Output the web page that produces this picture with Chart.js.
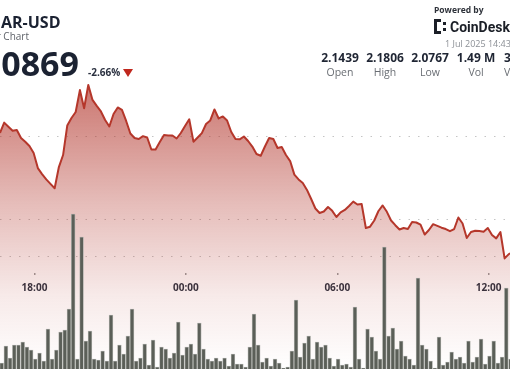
<!DOCTYPE html>
<html lang="en">
<head>
  <meta charset="UTF-8">
  <title>AR-USD 24 Hour Chart</title>
  <script src="https://cdn.jsdelivr.net/npm/chart.js"></script>
  <style>
    html, body {
      margin: 0;
      padding: 0;
      background: #fff;
    }

    body {
      width: 510px;
      height: 369px;
      overflow: hidden;
      position: relative;
      font-family: 'Open Sans', 'Noto Sans', sans-serif;
    }

    #chartBox {
      position: absolute;
      left: 0;
      top: 0;
      width: 510px;
      height: 369px;
    }

    .t {
      position: absolute;
      white-space: nowrap;
      z-index: 2;
    }

    .pair {
      width: 46px;
      text-align: center;
    }

    .val {
      font-weight: 700;
      font-size: 12px;
      line-height: 12px;
      color: #1f2533;
    }

    .lbl {
      font-size: 10.5px;
      line-height: 10.5px;
      color: #6a6e74;
      margin-top: 3px;
    }

    .arrow {
      position: absolute;
      left: 123px;
      top: 69px;
      width: 0;
      height: 0;
      border-left: 5px solid transparent;
      border-right: 5px solid transparent;
      border-top: 8px solid #c0271d;
      z-index: 2;
    }
  </style>
</head>
<body>
  <div class="t" style="left:1px; top:14px; font-size:16px; line-height:16px; font-weight:700; color:#1b2232;">AR-USD</div>
  <div class="t" style="right:481px; top:31px; font-size:10px; line-height:10px; color:#5f636a;">24 Hour Chart</div>
  <div class="t" style="right:431px; top:46px; font-size:34px; line-height:34px; font-weight:700; color:#1b2232;">2.0869</div>
  <div class="t" style="left:88px; top:67px; font-size:10px; line-height:10px; font-weight:700; color:#2b3140;">-2.66%</div>
  <div class="arrow"></div>

  <div class="t pair" style="left:317px; top:52px;"><div class="val">2.1439</div><div class="lbl">Open</div></div>
  <div class="t pair" style="left:362px; top:52px;"><div class="val">2.1806</div><div class="lbl">High</div></div>
  <div class="t pair" style="left:407px; top:52px;"><div class="val">2.0767</div><div class="lbl">Low</div></div>
  <div class="t pair" style="left:453px; top:52px;"><div class="val">1.49 M</div><div class="lbl">Vol</div></div>
  <div class="t" style="left:504px; top:52px;"><div class="val">3.13 M</div><div class="lbl">Vol USD</div></div>

  <div class="t" style="left:434px; top:6px; font-size:8.5px; line-height:8.5px; font-weight:700; color:#2e323a;">Powered by</div>
  <svg class="t" style="left:434px; top:19px;" width="13" height="15" viewBox="0 0 13 15">
    <rect x="0" y="0" width="3" height="15" fill="#1b1f27"/>
    <rect x="3" y="0" width="4" height="3" fill="#1b1f27"/>
    <rect x="3" y="12" width="4" height="3" fill="#1b1f27"/>
    <rect x="9" y="3" width="3" height="3" fill="#1b1f27"/>
    <rect x="9" y="9" width="3" height="3" fill="#1b1f27"/>
  </svg>
  <div class="t" style="left:450px; top:20px; font-family:Roboto, sans-serif; font-size:14px; line-height:14px; font-weight:700; color:#1b1f27;">CoinDesk</div>
  <div class="t" style="left:445px; top:39px; font-size:9px; line-height:9px; color:#8c9096;">1 Jul 2025 14:43</div>

  <div id="chartBox">
    <canvas id="priceChart" width="510" height="369"></canvas>
  </div>

  <script>
    // time axis in minutes relative to 18:00, one candle every 10 minutes
    const priceStartMin = -82;
    const volumeStartMin = -88;
    const stepMin = 10;

    const tickMinutes = [0, 360, 720, 1080];
    const tickLabels = ['18:00', '00:00', '06:00', '12:00'];

    // dotted guide lines (price)
    const gridPrices = [2.15, 2.10, 2.078];

    // closing price per 10 minute candle
    const priceValues = [
      2.1518, 2.1580, 2.1556, 2.1532, 2.1536, 2.1488, 2.1466, 2.1440, 2.1398, 2.1308,
      2.1272, 2.1240, 2.1213, 2.1187, 2.1314, 2.1386, 2.1563, 2.1608, 2.1644, 2.1775,
      2.1666, 2.1806, 2.1716, 2.1680, 2.1647, 2.1596, 2.1557, 2.1632, 2.1671, 2.1656,
      2.1590, 2.1515, 2.1488, 2.1482, 2.1499, 2.1491, 2.1419, 2.1419, 2.1464, 2.1506,
      2.1503, 2.1503, 2.1485, 2.1518, 2.1560, 2.1600, 2.1466, 2.1491, 2.1517, 2.1572,
      2.1593, 2.1659, 2.1605, 2.1617, 2.1593, 2.1524, 2.1482, 2.1480, 2.1497, 2.1470,
      2.1437, 2.1392, 2.1382, 2.1437, 2.1488, 2.1482, 2.1428, 2.1434, 2.1386, 2.1350,
      2.1269, 2.1240, 2.1219, 2.1177, 2.1123, 2.1066, 2.1039, 2.1048, 2.1075, 2.1052,
      2.1015, 2.1043, 2.1057, 2.1081, 2.1107, 2.1090, 2.1093, 2.0949, 2.0957, 2.0994,
      2.1051, 2.1084, 2.1046, 2.0994, 2.0966, 2.0940, 2.0949, 2.0943, 2.0985, 2.0982,
      2.0969, 2.0910, 2.0937, 2.0972, 2.0962, 2.0951, 2.0943, 2.0930, 2.0943, 2.1012,
      2.0976, 2.0889, 2.0925, 2.0933, 2.0931, 2.0927, 2.0949, 2.0907, 2.0887, 2.0925,
      2.0767, 2.0793, 2.0805
    ];

    // volume per candle, thousands
    const volumeK = [
      16.5, 3, 11.5, 5.5, 12, 12, 13.5, 11, 9.5, 5,
      8, 4, 20, 5, 9.5, 18.5, 19.5, 30, 77.5, 5,
      66, 14, 19, 5, 4.5, 9, 4, 27, 4, 12,
      7.5, 16.5, 30, 4, 5.5, 12.5, 2, 14.5, 1, 11,
      10, 5.5, 8, 23.5, 7, 11, 12.5, 7.5, 23, 10,
      5, 4, 5.5, 4, 5.5, 1.5, 7.5, 2.5, 2.5, 1,
      11, 27.5, 12, 3.5, 5.5, 1.5, 5, 3, 0.5, 1,
      9, 34.5, 6, 13, 16.5, 5, 13.5, 11, 12, 5.5,
      1.5, 5, 2, 2.5, 1, 31, 5, 0.5, 20, 16,
      9, 5, 61, 16.5, 20.5, 10, 14, 6.5, 5, 2,
      45.5, 12, 10, 4, 0.5, 16, 2, 3.5, 8.5, 5,
      6, 3, 14, 3.5, 6, 15, 2.5, 6.5, 14, 3,
      6, 40.5, 5
    ];

    const pricePoints = priceValues.map((v, i) => ({ x: priceStartMin + i * stepMin, y: v }));
    const volumePoints = volumeK.map((v, i) => ({ x: volumeStartMin + i * stepMin, y: v }));

    function areaGradient(context) {
      const chart = context.chart;
      const area = chart.chartArea;
      if (!area) return 'rgba(185,60,50,0.3)';
      const g = chart.ctx.createLinearGradient(0, area.top, 0, area.bottom);
      g.addColorStop(0, 'rgba(176,48,38,0.8)');
      g.addColorStop(0.25, 'rgba(176,48,38,0.64)');
      g.addColorStop(0.55, 'rgba(176,48,38,0.32)');
      g.addColorStop(0.8, 'rgba(176,48,38,0.1)');
      g.addColorStop(1, 'rgba(176,48,38,0.0)');
      return g;
    }

    const ctx = document.getElementById('priceChart').getContext('2d');
    const priceChart = new Chart(ctx, {
      data: {
        datasets: [
          {
            type: 'line',
            label: 'Price',
            data: pricePoints,
            yAxisID: 'y',
            borderColor: '#b5372b',
            borderWidth: 2,
            borderJoinStyle: 'round',
            pointRadius: 0,
            tension: 0,
            fill: 'start',
            backgroundColor: areaGradient,
            order: 2
          },
          {
            type: 'bar',
            label: 'Volume',
            data: volumePoints,
            yAxisID: 'yv',
            backgroundColor: '#5b5f58',
            borderColor: 'rgba(170,172,166,0.95)',
            borderWidth: 0.8,
            barThickness: 3.8,
            order: 1
          }
        ]
      },
      options: {
        responsive: false,
        animation: false,
        devicePixelRatio: 1,
        layout: { padding: 0 },
        plugins: {
          legend: { display: false },
          tooltip: { enabled: false }
        },
        scales: {
          x: {
            type: 'linear',
            min: -82,
            max: 1130.8,
            offset: false,
            position: { y: 2.068 },
            afterBuildTicks: (scale) => {
              scale.ticks = tickMinutes.map(v => ({ value: v }));
            },
            afterFit: (scale) => {
              scale.paddingLeft = 0;
              scale.paddingRight = 0;
            },
            ticks: {
              autoSkip: false,
              maxRotation: 0,
              padding: 7,
              color: '#2b3240',
              font: { family: "'Open Sans', sans-serif", size: 10, weight: 'bold' },
              callback: (value) => tickLabels[tickMinutes.indexOf(value)]
            },
            grid: {
              offset: false,
              drawOnChartArea: false,
              tickLength: 2,
              lineWidth: 1.5,
              color: '#9c9c9c'
            },
            border: { display: false }
          },
          y: {
            type: 'linear',
            position: 'right',
            min: 2.01048,
            max: 2.23144,
            afterBuildTicks: (scale) => {
              scale.ticks = gridPrices.map(v => ({ value: v }));
            },
            afterFit: (scale) => {
              scale.width = 0;
            },
            ticks: { display: false },
            grid: {
              drawTicks: false,
              color: '#c4c4c4',
              lineWidth: 1
            },
            border: { display: false, dash: [1.5, 8] }
          },
          yv: {
            type: 'linear',
            display: false,
            min: 0,
            max: 184.5
          }
        }
      }
    });
  </script>
</body>
</html>
